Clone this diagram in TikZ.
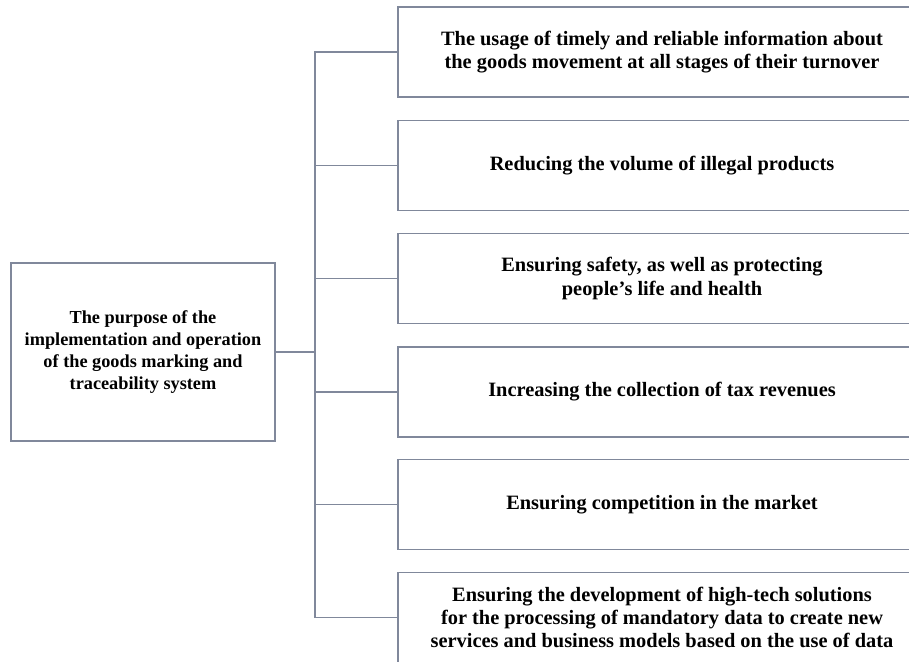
\documentclass[tikz,border=0pt]{standalone}
\usepackage{fontspec}
\setmainfont{Liberation Serif}
\usepackage{tikz}
\definecolor{boxgray}{RGB}{128,136,155}
\tikzset{
  goalbox/.style={draw=boxgray, line width=1.1pt, align=center,
    minimum width=13.2cm, minimum height=2.25cm, inner sep=0,
    font=\fontsize{14.5}{16.4}\selectfont\bfseries},
  purposebox/.style={goalbox, minimum width=6.6cm, minimum height=4.45cm,
    font=\fontsize{13}{15.7}\selectfont\bfseries},
  conn/.style={draw=boxgray, line width=1.1pt}
}

\begin{document}
\begin{tikzpicture}
  \useasboundingbox (0, 0) rectangle (22.725, 16.55);

  \node[purposebox]
    (purpose) at (3.575, 7.75) {The purpose of the\\implementation and operation\\of the goods marking and\\traceability system};

  \node[goalbox]
    (info) at (16.55, 15.25) {The usage of timely and reliable information about\\the goods movement at all stages of their turnover};

  \node[goalbox]
    (illegal) at (16.55, 12.4125) {Reducing the volume of illegal products};

  \node[goalbox]
    (safety) at (16.55, 9.5875) {Ensuring safety, as well as protecting\\people's life and health};

  \node[goalbox]
    (tax) at (16.55, 6.75) {Increasing the collection of tax revenues};

  \node[goalbox]
    (compete) at (16.55, 3.9375) {Ensuring competition in the market};

  \node[goalbox]
    (hightech) at (16.55, 1.1125) {Ensuring the development of high-tech solutions\\for the processing of mandatory data to create new\\services and business models based on the use of data};

  \node[inner sep=0, minimum size=0] (J) at (7.875, 7.75) {};

  \draw[conn]
    (purpose) -- (J)
    (J) |- (info)
    (J) |- (illegal)
    (J) |- (safety)
    (J) |- (tax)
    (J) |- (compete)
    (J) |- (hightech);
\end{tikzpicture}
\end{document}
